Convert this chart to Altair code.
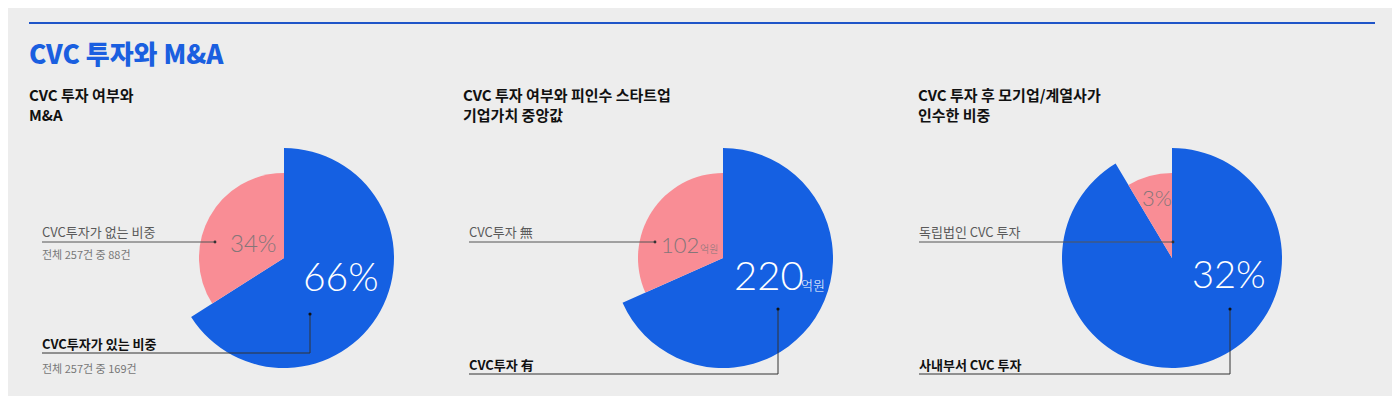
import altair as alt
import pandas as pd

# ---- data ----
panels = [1, 1, 2, 2, 3, 3]
kinds = ["yes", "no", "yes", "no", "yes", "no"]
values = [66, 34, 220, 102, 32, 3]
value_text = ["66%", "34%", "220", "102", "32%", "3%"]
unit_text = ["", "", "억원", "억원", "", ""]
orders = [1, 2, 1, 2, 1, 2]

title_text = "CVC 투자와 M&A"
subtitles = [
    ["CVC 투자 여부와", "M&A"],
    ["CVC 투자 여부와 피인수 스타트업", "기업가치 중앙값"],
    ["CVC 투자 후 모기업/계열사가", "인수한 비중"],
]
label_no = ["CVC투자가 없는 비중", "CVC투자 無", "독립법인 CVC 투자"]
label_yes = ["CVC투자가 있는 비중", "CVC투자 有", "사내부서 CVC 투자"]
sub_no = ["전체 257건 중 88건", "", ""]
sub_yes = ["전체 257건 중 169건", "", ""]

df = pd.DataFrame({
    "panel": panels, "kind": kinds, "value": values,
    "vtext": value_text, "utext": unit_text, "ord": orders,
})

BLUE = "#1560E2"
PINK = "#F98D95"
BG = "#EDEDED"
KFONT = "Noto Sans CJK KR"
NFONT = "Lato"

W, H = 1384, 388
OFF = 8  # page margin


def P(v):
    return v - OFF


# pie geometry (picture coords)
centers = {1: (284, 258), 2: (723, 258), 3: (1172, 258)}
RADII = {"yes": 110, "no": 85}

layers = []
one = pd.DataFrame({"a": [0]})

# top blue line
layers.append(
    alt.Chart(one).mark_rule(color="#1F55C8", strokeWidth=2).encode(
        x=alt.value(P(29)), x2=alt.value(P(1375)), y=alt.value(P(23))
    )
)

# title
layers.append(
    alt.Chart(pd.DataFrame({"t": [title_text]})).mark_text(
        font=KFONT, fontSize=26, fontWeight=900, color="#1A5FE0",
        align="left", baseline="alphabetic",
    ).encode(text="t:N", x=alt.value(P(29)), y=alt.value(P(64)))
)

sub_x = [29, 463, 918]
for i, lines in enumerate(subtitles):
    for j, line in enumerate(lines):
        layers.append(
            alt.Chart(pd.DataFrame({"t": [line]})).mark_text(
                font=KFONT, fontSize=15, fontWeight=700, color="#111111",
                align="left", baseline="alphabetic",
            ).encode(text="t:N", x=alt.value(P(sub_x[i])), y=alt.value(P(101 + 20 * j)))
        )

# pies: start/end fractions from cumulative sums, each slice drawn with its own radius
for p, (cx, cy) in centers.items():
    for k, r in RADII.items():
        layers.append(
            alt.Chart(df).transform_filter(alt.datum.panel == p)
            .transform_joinaggregate(total="sum(value)")
            .transform_window(cum="sum(value)", sort=[alt.SortField("ord")],
                              frame=[None, 0])
            .transform_calculate(f0="(datum.cum - datum.value) / datum.total",
                                 f1="datum.cum / datum.total")
            .transform_filter(alt.datum.kind == k)
            .mark_arc(strokeWidth=0)
            .encode(
                theta=alt.Theta("f0:Q", scale=alt.Scale(domain=[0, 1])),
                theta2="f1:Q",
                color=alt.Color("kind:N", scale=alt.Scale(domain=["yes", "no"], range=[BLUE, PINK]),
                                legend=None),
                radius=alt.value(r),
                x=alt.value(P(cx)), y=alt.value(P(cy)),
            )
        )

# value labels inside pies (picture coords of left/baseline)
num_pos = {
    (1, "yes"): (303, 291, 39, "white"),
    (1, "no"): (230, 252, 24, "#857679"),
    (2, "yes"): (734, 290, 40, "white"),
    (2, "no"): (661, 253, 22, "#857679"),
    (3, "yes"): (1192, 288, 38, "white"),
    (3, "no"): (1142, 206, 22, "#857679"),
}
unit_pos = {
    (2, "yes"): (801, 290, 13, "white"),
    (2, "no"): (700, 253, 10, "#857679"),
}
for (p, k), (x, y, fs, col) in num_pos.items():
    layers.append(
        alt.Chart(df).transform_filter((alt.datum.panel == p) & (alt.datum.kind == k))
        .mark_text(font=NFONT, fontSize=fs, fontWeight=300, color=col, align="left", baseline="alphabetic")
        .encode(text="vtext:N", x=alt.value(P(x)), y=alt.value(P(y)))
    )
for (p, k), (x, y, fs, col) in unit_pos.items():
    layers.append(
        alt.Chart(df).transform_filter((alt.datum.panel == p) & (alt.datum.kind == k))
        .mark_text(font=KFONT, fontSize=fs, fontWeight=300, color=col, align="left", baseline="alphabetic")
        .encode(text="utext:N", x=alt.value(P(x)), y=alt.value(P(y)))
    )

# annotation labels
lab_x = [42, 469, 919]
no_end = [215, 655, 1173]
yes_corner = [310, 778, 1230]
yes_line_y = [353, 374, 374]
yes_top = [314, 309, 309]
yes_label_y = [349, 370, 370]


def txt(t, x, y, fs, w, col):
    return alt.Chart(pd.DataFrame({"t": [t]})).mark_text(
        font=KFONT, fontSize=fs, fontWeight=w, color=col, align="left", baseline="alphabetic"
    ).encode(text="t:N", x=alt.value(P(x)), y=alt.value(P(y)))


for i in range(3):
    layers.append(txt(label_no[i], lab_x[i], 237, 13, 400, "#5A5A5A"))
    if sub_no[i]:
        layers.append(txt(sub_no[i], lab_x[i], 259, 11, 400, "#777777"))
    layers.append(txt(label_yes[i], lab_x[i], yes_label_y[i], 13, 700, "#111111"))
    if sub_yes[i]:
        layers.append(txt(sub_yes[i], lab_x[i], 373, 11, 400, "#777777"))
    # "no" leader line
    layers.append(
        alt.Chart(one).mark_rule(color="#555555", strokeWidth=1).encode(
            x=alt.value(P(lab_x[i])), x2=alt.value(P(no_end[i])), y=alt.value(P(242)))
    )
    layers.append(
        alt.Chart(one).mark_circle(color="#333333", size=8, opacity=1).encode(
            x=alt.value(P(no_end[i])), y=alt.value(P(242)))
    )
    # "yes" leader line
    layers.append(
        alt.Chart(one).mark_rule(color="#333333", strokeWidth=1).encode(
            x=alt.value(P(lab_x[i])), x2=alt.value(P(yes_corner[i])), y=alt.value(P(yes_line_y[i])))
    )
    layers.append(
        alt.Chart(one).mark_rule(color="#333333", strokeWidth=1).encode(
            x=alt.value(P(yes_corner[i])), y=alt.value(P(yes_top[i])), y2=alt.value(P(yes_line_y[i])))
    )
    layers.append(
        alt.Chart(one).mark_circle(color="#111111", size=10, opacity=1).encode(
            x=alt.value(P(yes_corner[i])), y=alt.value(P(yes_top[i])))
    )

chart = alt.layer(*layers).properties(
    width=W, height=H, padding=0, autosize=alt.AutoSizeParams(type="none"),
    background=BG,
).configure_view(stroke=None)

chart.save("out.html", embed_options={"renderer": "svg", "actions": False})
